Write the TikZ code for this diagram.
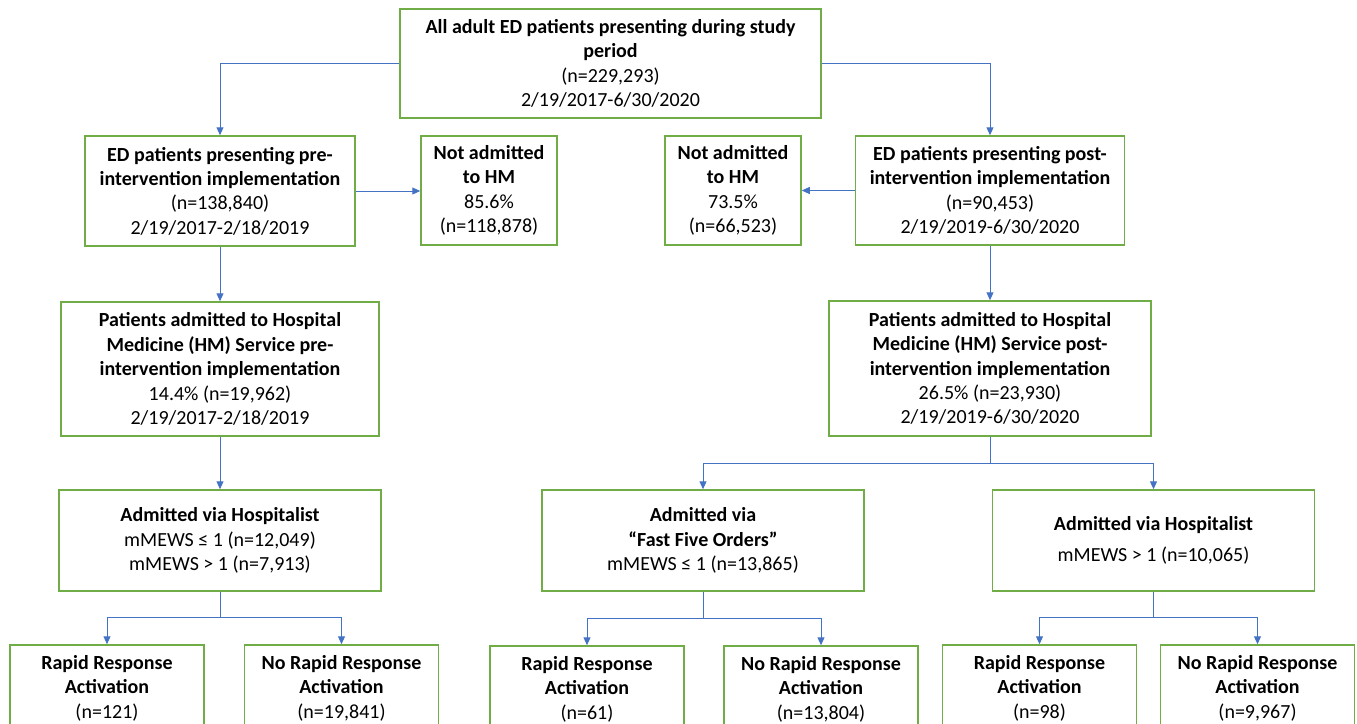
\documentclass[tikz,border=0pt]{standalone}
\usepackage{fontspec}
\setmainfont{Carlito}
\usetikzlibrary{positioning,arrows.meta}
\definecolor{boxgreen}{HTML}{70AD47}
\definecolor{linkblue}{HTML}{4472C4}

\begin{document}
\begin{tikzpicture}[
    x=1pt, y=-1pt,
    block/.style={rectangle, draw=boxgreen, line width=1.5pt, align=center, inner sep=0pt, font=\fontsize{20}{24.4}\selectfont},
    wide/.style={block, minimum width=322pt, minimum height=101pt},
    leaf/.style={block, minimum width=194pt, minimum height=86pt},
    arrow/.style={-{Triangle[length=8pt,width=7pt]}, draw=linkblue, line width=1pt}
]
\useasboundingbox (0,0) rectangle (1357,723);
\clip (0,0) rectangle (1357,723);

\node[block, minimum width=421pt, minimum height=109pt] (all) at (610.5,63.5) {\textbf{All adult ED patients presenting during study}\\\textbf{period}\\(n=229,293)\\2/19/2017-6/30/2020};

\node[block, minimum width=270pt, minimum height=110pt] (pre) at (220,191) {\textbf{ED patients presenting pre-}\\\textbf{intervention implementation}\\(n=138,840)\\2/19/2017-2/18/2019};
\node[block, minimum width=136pt, minimum height=109pt] (outpre) at (489,190.5) {\textbf{Not admitted}\\\textbf{to HM}\\85.6\%\\(n=118,878)};
\node[block, minimum width=136pt, minimum height=109pt] (outpost) at (733,190.5) {\textbf{Not admitted}\\\textbf{to HM}\\73.5\%\\(n=66,523)};
\node[block, minimum width=269pt, minimum height=109pt] (post) at (990,190.5) {\textbf{ED patients presenting post-}\\\textbf{intervention implementation}\\(n=90,453)\\2/19/2019-6/30/2020};

\node[block, minimum width=318pt, minimum height=134pt] (hmpre) at (220,369) {\textbf{Patients admitted to Hospital}\\\textbf{Medicine (HM) Service pre-}\\\textbf{intervention implementation}\\14.4\% (n=19,962)\\2/19/2017-2/18/2019};
\node[block, minimum width=322pt, minimum height=135pt] (hmpost) at (990,368.5) {\textbf{Patients admitted to Hospital}\\\textbf{Medicine (HM) Service post-}\\\textbf{intervention implementation}\\26.5\% (n=23,930)\\2/19/2019-6/30/2020};

\node[wide] (hosppre) at (220,540.5) {\textbf{Admitted via Hospitalist}\\mMEWS ≤ 1 (n=12,049)\\mMEWS > 1 (n=7,913)};
\node[wide] (fast) at (703,540.5) {\textbf{Admitted via}\\\textbf{“Fast Five Orders”}\\mMEWS ≤ 1 (n=13,865)};
\node[wide] (hosppost) at (1153.5,540.5) {\textbf{Admitted via Hospitalist}\\[6pt]mMEWS > 1 (n=10,065)};

\node[leaf] (rra) at (107,688) {\textbf{Rapid Response}\\\textbf{Activation}\\(n=121)};
\node[leaf] (norra) at (341.5,688) {\textbf{No Rapid Response}\\\textbf{Activation}\\(n=19,841)};
\node[leaf] (rrb) at (587,689) {\textbf{Rapid Response}\\\textbf{Activation}\\(n=61)};
\node[leaf] (norrb) at (821,689) {\textbf{No Rapid Response}\\\textbf{Activation}\\(n=13,804)};
\node[leaf] (rrc) at (1039.5,688) {\textbf{Rapid Response}\\\textbf{Activation}\\(n=98)};
\node[leaf] (norrc) at (1257.5,688) {\textbf{No Rapid Response}\\\textbf{Activation}\\(n=9,967)};

\coordinate (splitpost) at (990,463);
\coordinate (splita) at (220,617);
\coordinate (splitb) at (703,618);
\coordinate (splitc) at (1153.5,617.5);

\draw[arrow] (all.west) -| (pre.north);
\draw[arrow] (all.east) -| (post.north);
\draw[arrow] (pre.east) -- (pre.east -| outpre.west);
\draw[arrow] (post.west) -- (post.west -| outpost.east);
\draw[arrow] (pre) -- (hmpre);
\draw[arrow] (post) -- (hmpost);
\draw[arrow] (hmpre) -- (hosppre);

\draw[arrow] (hmpost.south) -- (splitpost) -| (fast.north);
\draw[arrow] (splitpost) -| (hosppost.north);

\draw[arrow] (hosppre.south) -- (splita) -| (rra.north);
\draw[arrow] (splita) -| (norra.north);
\draw[arrow] (fast.south) -- (splitb) -| (rrb.north);
\draw[arrow] (splitb) -| (norrb.north);
\draw[arrow] (hosppost.south) -- (splitc) -| (rrc.north);
\draw[arrow] (splitc) -| (norrc.north);

\end{tikzpicture}
\end{document}
